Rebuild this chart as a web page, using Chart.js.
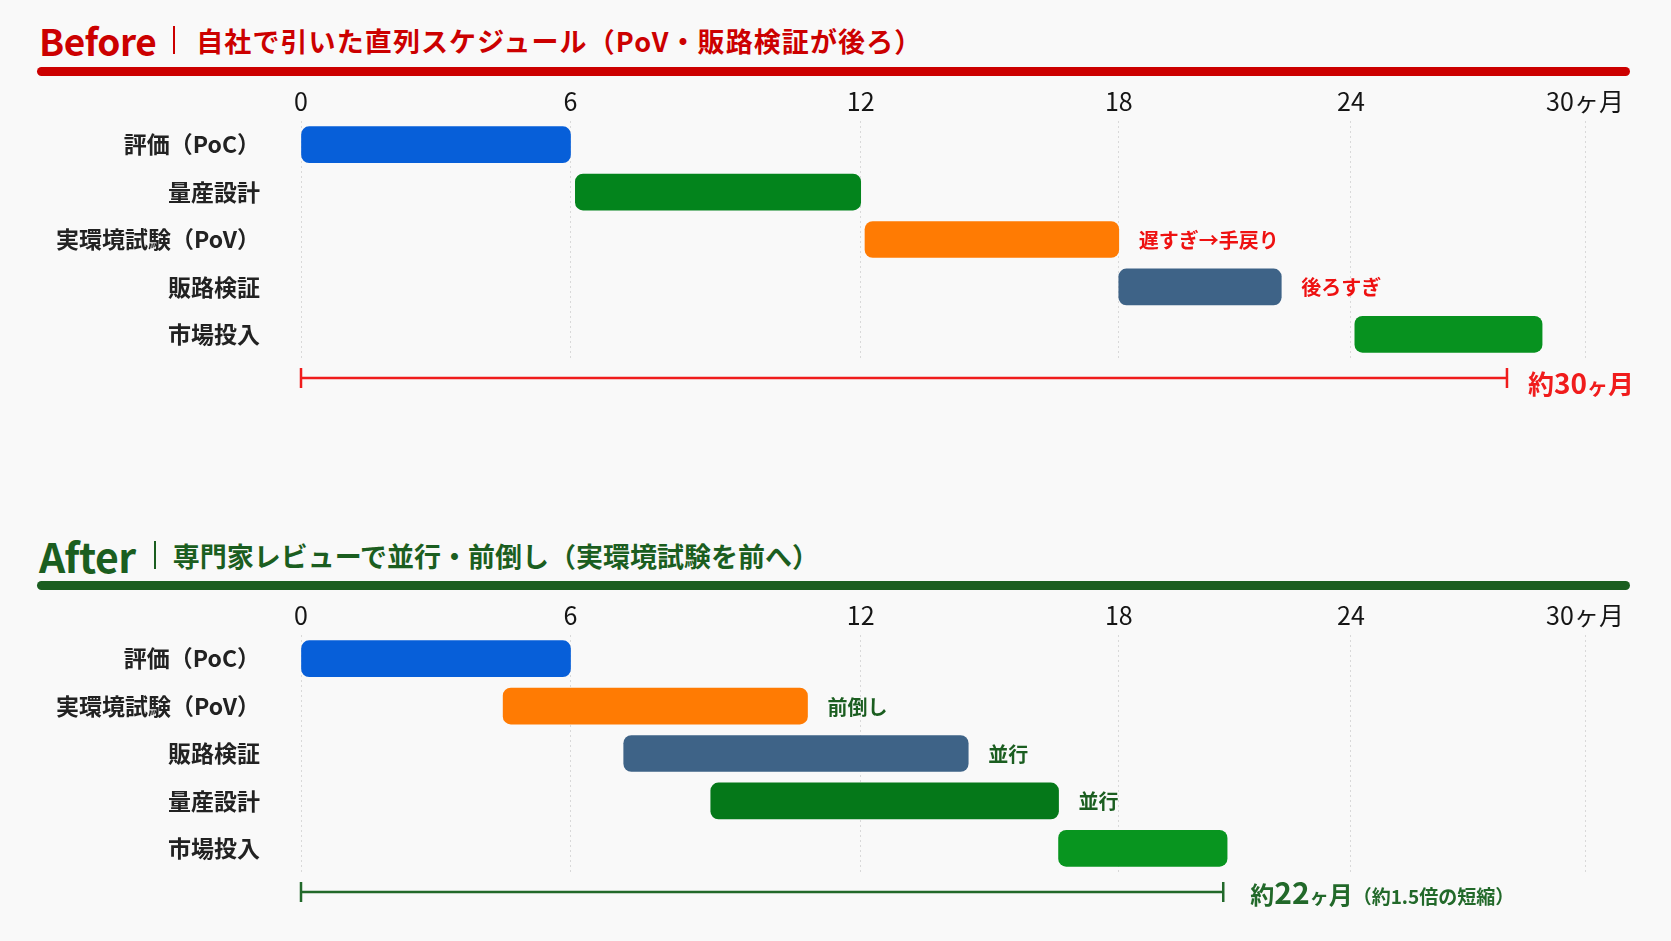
<!DOCTYPE html>
<html lang="ja">
<head>
<meta charset="utf-8">
<script src="https://cdn.jsdelivr.net/npm/chart.js@4.4.1/dist/chart.umd.min.js"></script>
<style>
  html, body { margin: 0; padding: 0; background: #f9f9f9; }
  body { width: 1671px; height: 941px; position: relative; overflow: hidden;
         font-family: "Noto Sans CJK JP", "Noto Sans", sans-serif; }
  .title { position: absolute; left: 39px; display: flex; align-items: center; transform: translateY(-50%); white-space: nowrap; }
  .title .big { font-weight: 700; letter-spacing: -0.5px; }
  .title .sep { width: 2px; height: 28px; }
  .title .sub { font-size: 27px; font-weight: 700; }
  .rule { position: absolute; left: 37px; width: 1593px; height: 9px; border-radius: 5px; }
  .panel { position: absolute; left: 0; width: 1671px; height: 349px; }
</style>
</head>
<body>
<div class="title" style="top:40px;color:#cc0000">
  <span class="big" style="font-size:37px">Before</span><span class="sep" style="background:#cc0000;margin:0 21px 0 17px"></span><span class="sub" style="letter-spacing:1.1px">自社で引いた直列スケジュール（PoV・販路検証が後ろ）</span>
</div>
<div class="rule" style="top:67px;background:#cc0000"></div>
<div class="panel" style="top:69px"><canvas id="before"></canvas></div>

<div class="title" style="top:555px;color:#1b5e20">
  <span class="big" style="font-size:41px">After</span><span class="sep" style="background:#1b5e20;margin:0 17px 0 18px"></span><span class="sub">専門家レビューで並行・前倒し（実環境試験を前へ）</span>
</div>
<div class="rule" style="top:581px;background:#1b5e20"></div>
<div class="panel" style="top:583px"><canvas id="after"></canvas></div>

<script>
// ---------- data ----------
const MONTH_TICKS = [0, 6, 12, 18, 24, 30];
const MONTH_TICK_LABELS = ['0', '6', '12', '18', '24', '30ヶ月'];

const BEFORE_TASKS = ['評価（PoC）', '量産設計', '実環境試験（PoV）', '販路検証', '市場投入'];
const BEFORE_START = [0, 6.1, 12.1, 18, 24.1];
const BEFORE_END   = [6, 12, 18, 22.2, 28.9];
const BEFORE_NOTES = ['', '', '遅すぎ→手戻り', '後ろすぎ', ''];
const BEFORE_TOTAL = 28;
const BEFORE_TOTAL_LABEL = [['約', 26], ['30', 28], ['ヶ', 21], ['月', 26]];

const AFTER_TASKS = ['評価（PoC）', '実環境試験（PoV）', '販路検証', '量産設計', '市場投入'];
const AFTER_START = [0, 4.5, 7.1, 8.9, 16.6];
const AFTER_END   = [6, 10.9, 14.5, 16.6, 20.8];
const AFTER_NOTES = ['', '前倒し', '並行', '並行', ''];
const AFTER_TOTAL = 20.7;
const AFTER_TOTAL_LABEL = [['約', 24], ['22', 30], ['ヶ', 19], ['月', 24], ['（約1.5倍の短縮）', 19]];

// ---------- styles ----------
const FONT = '"Noto Sans CJK JP", "Noto Sans", sans-serif';
const TASK_COLORS_BEFORE = { '評価（PoC）': '#075fd9', '量産設計': '#03841c', '実環境試験（PoV）': '#ff7b03', '販路検証': '#3e6387', '市場投入': '#07921f' };
const TASK_COLORS_AFTER  = { '評価（PoC）': '#075fd9', '量産設計': '#057819', '実環境試験（PoV）': '#ff7b03', '販路検証': '#3e6387', '市場投入': '#08951f' };
// the axis of the reference is drawn with uneven spacing between the month ticks
const AXIS_WARP = [0, 0.2099, 0.4359, 0.6369, 0.8177, 1];

// ---------- a linear scale with uneven tick spacing ----------
class WarpScale extends Chart.LinearScale {
  _dec(v) {
    const s = MONTH_TICKS, f = AXIS_WARP;
    if (v <= s[0]) return f[0] + (v - s[0]) / (s[1] - s[0]) * (f[1] - f[0]);
    for (let i = 1; i < s.length; i++) {
      if (v <= s[i] || i === s.length - 1) {
        return f[i - 1] + (v - s[i - 1]) / (s[i] - s[i - 1]) * (f[i] - f[i - 1]);
      }
    }
  }
  _val(d) {
    const s = MONTH_TICKS, f = AXIS_WARP;
    for (let i = 1; i < f.length; i++) {
      if (d <= f[i] || i === f.length - 1) {
        return s[i - 1] + (d - f[i - 1]) / (f[i] - f[i - 1]) * (s[i] - s[i - 1]);
      }
    }
  }
  getPixelForValue(value) {
    if (value === null || value === undefined || isNaN(value)) return NaN;
    return this.getPixelForDecimal(this._dec(value));
  }
  getValueForPixel(pixel) {
    return this._val(this.getDecimalForPixel(pixel));
  }
}
WarpScale.id = 'warp';
WarpScale.defaults = {};
Chart.register(WarpScale);

// ---------- plugins ----------
const notesPlugin = {
  id: 'barNotes',
  afterDatasetsDraw(chart) {
    const o = chart.options.plugins.barNotes;
    const meta = chart.getDatasetMeta(0);
    const ctx = chart.ctx;
    ctx.save();
    ctx.font = 'bold 20px ' + FONT;
    ctx.fillStyle = o.color;
    ctx.textAlign = 'left';
    ctx.textBaseline = 'middle';
    o.notes.forEach((t, i) => {
      if (!t) return;
      const el = meta.data[i];
      ctx.fillText(t, el.x + 20, el.y + 1);
    });
    ctx.restore();
  }
};

const bracketPlugin = {
  id: 'bracket',
  afterDraw(chart) {
    const o = chart.options.plugins.bracket;
    const x = chart.scales.x;
    const ctx = chart.ctx;
    const y = chart.chartArea.bottom + 20;
    const x0 = x.getPixelForValue(0), x1 = x.getPixelForValue(o.end);
    ctx.save();
    ctx.strokeStyle = o.color;
    ctx.lineWidth = 2.5;
    ctx.beginPath();
    ctx.moveTo(x0, y); ctx.lineTo(x1, y);
    ctx.moveTo(x0, y - 10); ctx.lineTo(x0, y + 10);
    ctx.moveTo(x1, y - 10); ctx.lineTo(x1, y + 10);
    ctx.stroke();
    ctx.fillStyle = o.color;
    ctx.textBaseline = 'alphabetic';
    ctx.textAlign = 'left';
    let tx = x1 + o.gap;
    o.label.forEach(([t, s]) => {
      ctx.font = 'bold ' + s + 'px ' + FONT;
      ctx.fillText(t, tx, y + o.dy);
      tx += ctx.measureText(t).width;
    });
    ctx.restore();
  }
};

function makeChart(id, tasks, starts, ends, colors, notes, noteColor, total, totalLabel, bracketColor, gap, dy) {
  return new Chart(document.getElementById(id), {
    type: 'bar',
    data: {
      labels: tasks,
      datasets: [{
        data: tasks.map((_, i) => [starts[i], ends[i]]),
        backgroundColor: tasks.map(t => colors[t]),
        borderRadius: 8,
        borderSkipped: false,
        barThickness: 36
      }]
    },
    options: {
      indexAxis: 'y',
      responsive: true,
      maintainAspectRatio: false,
      animation: false,
      layout: { padding: { left: 0, right: 86, top: 0, bottom: 60 } },
      scales: {
        x: {
          type: 'warp',
          position: 'top',
          min: 0, max: 30,
          afterBuildTicks: s => { s.ticks = MONTH_TICKS.map(v => ({ value: v })); },
          afterFit: s => { s.height = 52; },
          ticks: {
            callback: (v, i) => MONTH_TICK_LABELS[i],
            font: { family: FONT, size: 25, weight: 'normal' },
            color: '#151515',
            padding: 5,
            maxRotation: 0,
            autoSkip: false
          },
          grid: { color: '#d9d9d9', lineWidth: 1, drawTicks: false },
          border: { display: false, dash: [2, 3] }
        },
        y: {
          type: 'category',
          afterFit: s => { s.width = 301; },
          ticks: {
            font: { family: FONT, size: 23, weight: 'bold' },
            color: '#222222',
            padding: 33
          },
          grid: { display: false },
          border: { display: false }
        }
      },
      plugins: {
        legend: { display: false },
        tooltip: { enabled: false },
        barNotes: { notes: notes, color: noteColor },
        bracket: { end: total, label: totalLabel, color: bracketColor, gap: gap, dy: dy }
      }
    },
    plugins: [notesPlugin, bracketPlugin]
  });
}

makeChart('before', BEFORE_TASKS, BEFORE_START, BEFORE_END, TASK_COLORS_BEFORE,
          BEFORE_NOTES, '#ee1111', BEFORE_TOTAL, BEFORE_TOTAL_LABEL, '#f01c1c', 21, 16);
makeChart('after', AFTER_TASKS, AFTER_START, AFTER_END, TASK_COLORS_AFTER,
          AFTER_NOTES, '#1b5e20', AFTER_TOTAL, AFTER_TOTAL_LABEL, '#22692a', 27, 12);
</script>
</body>
</html>
